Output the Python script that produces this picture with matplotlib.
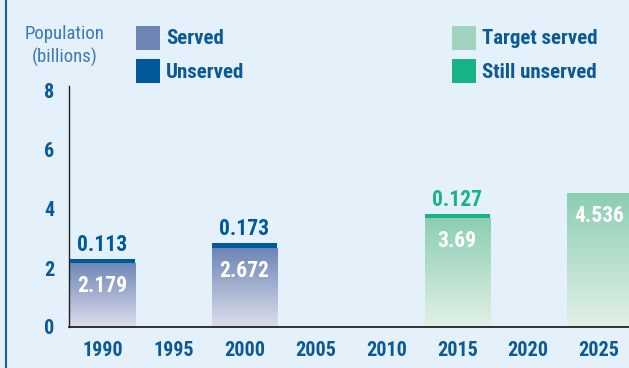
import matplotlib
matplotlib.use("Agg")
import matplotlib.pyplot as plt
import numpy as np
from matplotlib.colors import to_rgba
from matplotlib.patches import Rectangle

years = [1990, 2000, 2015, 2025]
served = [2.179, 2.672, 3.69, 4.536]
unserved = [0.113, 0.173, 0.127, 0.0]
is_target = [False, False, True, True]
xticks = [1990, 1995, 2000, 2005, 2010, 2015, 2020, 2025]
yticks = [0, 2, 4, 6, 8]

BG = "#e4f0fa"
NAVY = "#0b5a96"
LABEL_C = "#3d7ab3"
SERVED_TOP, SERVED_BOT = "#6d85b6", "#dcdeec"
UNSERVED_C = "#00599a"
TARGET_TOP, TARGET_BOT = "#8bceb2", "#e3f0e8"
STILL_C = "#19b38a"

plt.rcParams["font.family"] = ["Roboto Condensed", "DejaVu Sans"]

W, H = 629, 368
fig = plt.figure(figsize=(W / 100, H / 100), dpi=100, facecolor=BG)
ax = fig.add_axes([68.5 / W, 1 - 327 / H, 1 - 68.5 / W, (327 - 86) / H])
ax.set_facecolor(BG)


def gradient(top, bot, n=256):
    t = np.linspace(0, 1, n)[:, None]
    a, b = np.array(to_rgba(bot)), np.array(to_rgba(top))
    return (a + (b - a) * t)[:, None, :]


width = 4.6
for x, s, u, tgt in zip(years, served, unserved, is_target):
    top_c, bot_c = (TARGET_TOP, TARGET_BOT) if tgt else (SERVED_TOP, SERVED_BOT)
    band_c = STILL_C if tgt else UNSERVED_C
    # invisible bar gives the shape, the gradient image is clipped to it
    bar = ax.bar(x, s, width=width, color="none", linewidth=0)[0]
    im = ax.imshow(gradient(top_c, bot_c), extent=[x - width / 2, x + width / 2, 0, s],
                   origin="lower", aspect="auto", zorder=2)
    im.set_clip_path(bar)
    ax.annotate(f"{s:g}", xy=(x, s), xytext=(0, -23), textcoords="offset pixels",
                ha="center", va="center", color="white", fontsize=15.5,
                fontweight="bold", zorder=4)
    if u > 0:
        ax.bar(x, u, bottom=s, width=width, color=band_c, linewidth=0, zorder=3)
        ax.annotate(f"{u:g}", xy=(x, s + u), xytext=(0, 3), textcoords="offset pixels",
                    ha="center", va="bottom", color=band_c, fontsize=15.5,
                    fontweight="bold", zorder=4)

ax.set_xlim(1990 - 34 / 14.19, 1990 + (W - 102.5) / 14.19)
ax.set_ylim(0, 241 / 29.5)
ax.set_xticks(xticks)
ax.set_yticks(yticks)
ax.tick_params(length=0, labelsize=14.5, labelcolor=NAVY)
ax.tick_params(axis="y", pad=10)
ax.tick_params(axis="x", pad=10)
for lab in ax.get_xticklabels() + ax.get_yticklabels():
    lab.set_fontweight("bold")
for side in ("top", "right"):
    ax.spines[side].set_visible(False)
ax.spines["left"].set_color("#222222")
ax.spines["bottom"].set_color("#222222")
ax.spines["left"].set_linewidth(1.0)
ax.spines["bottom"].set_linewidth(1.3)

# axis title above the y axis
fig.text(64.5 / W, 1 - 34 / H, "Population", ha="center", va="center",
         color=LABEL_C, fontsize=13.5)
fig.text(64.5 / W, 1 - 57 / H, "(billions)", ha="center", va="center",
         color=LABEL_C, fontsize=13.5)

# legend swatches
legend = [(136, 26, SERVED_TOP, "Served"), (136, 59, UNSERVED_C, "Unserved"),
          (452, 26, "#a0d4bf", "Target served"), (452, 59, STILL_C, "Still unserved")]
for px, py, c, txt in legend:
    fig.patches.append(Rectangle((px / W, 1 - (py + 24) / H), 24 / W, 24 / H,
                                 transform=fig.transFigure, color=c, linewidth=0))
    fig.text((px + 30) / W, 1 - (py + 13) / H, txt, ha="left", va="center",
             color=NAVY, fontsize=15, fontweight="bold")

# frame line on the left edge
fig.add_artist(plt.Line2D([6.5 / W, 6.5 / W], [0, 1], transform=fig.transFigure,
                          color="#1f5c99", lw=1.5))

fig.savefig("out.png", dpi=100, facecolor=BG)
